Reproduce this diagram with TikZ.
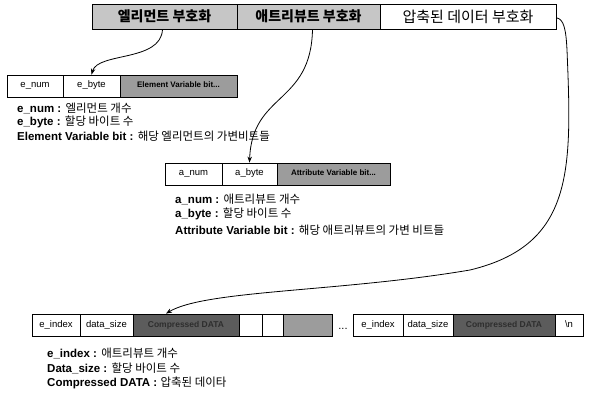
\documentclass[tikz,border=0pt]{standalone}
\usepackage{fontspec}
\setmainfont{Liberation Sans}
\newfontfamily\kr{Noto Sans CJK KR}
\usetikzlibrary{arrows.meta,calc}
\definecolor{lightcell}{HTML}{C6C6C6}
\definecolor{varcell}{HTML}{9C9C9C}
\definecolor{darkcell}{HTML}{5C5C5C}
\definecolor{darktext}{HTML}{2E2E2E}
\begin{document}
\begin{tikzpicture}[x=1pt,y=-1pt,
  cell/.style={draw=black, line width=0.8pt, minimum height=22pt, inner sep=0pt,
    text height=5.5pt, text depth=1.5pt,
    font=\fontsize{9.5}{11}\selectfont, anchor=center},
  topcell/.style={draw=black, line width=0.8pt, minimum height=25pt, inner sep=0pt,
    font=\kr\fontsize{14}{16}\selectfont, anchor=center},
  varbox/.style={cell, fill=varcell, font=\bfseries\fontsize{8}{9}\selectfont},
  databox/.style={cell, fill=darkcell, text=darktext, font=\bfseries\fontsize{8.5}{9}\selectfont},
  lbl/.style={anchor=west, inner sep=0pt, font=\fontsize{11.5}{13}\selectfont},
  conn/.style={-{Stealth[length=6pt,width=4.5pt]}, line width=0.8pt}]
\useasboundingbox (0,0) rectangle (589,395);

% top bar
\node[topcell, fill=lightcell, minimum width=145pt] (t1) at (164.5,16.5) {\bfseries 엘리먼트 부호화};
\node[topcell, fill=lightcell, minimum width=143pt] (t2) at (308.5,16.5) {\bfseries 애트리뷰트 부호화};
\node[topcell, fill=white, minimum width=176pt, font=\kr\fontsize{15}{17}\selectfont] (t3) at (468,16.5) {압축된 데이터 부호화};

% element row
\node[cell, minimum width=56pt] (en) at (35,86) {e\_num};
\node[cell, minimum width=57pt] (eb) at (91.5,86) {e\_byte};
\node[varbox, minimum width=117pt] (ev) at (178.5,86) {Element Variable bit...};

\node[lbl] (l1) at (17,108) {\textbf{e\_num :} {\kr 엘리먼트 개수}};
\node[lbl] (l2) at (17,122) {\textbf{e\_byte :} {\kr 할당 바이트 수}};
\node[lbl] (l3) at (17,136) {\textbf{Element Variable bit :} {\kr 해당 엘리먼트의 가변비트들}};

% attribute row
\node[cell, minimum width=57pt] (an) at (193.5,174) {a\_num};
\node[cell, minimum width=55pt] (ab) at (249.5,174) {a\_byte};
\node[varbox, minimum width=113pt] (av) at (333.5,174) {Attribute Variable bit...};

\node[lbl] (l4) at (175,199) {\textbf{a\_num :} {\kr 애트리뷰트 개수}};
\node[lbl] (l5) at (175,214) {\textbf{a\_byte :} {\kr 할당 바이트 수}};
\node[lbl] (l6) at (175,230) {\textbf{Attribute Variable bit :} {\kr 해당 애트리뷰트의 가변 비트들}};

% data row
\node[cell, minimum width=48pt] (ei1) at (56,325) {e\_index};
\node[cell, minimum width=53pt] (ds1) at (106.5,325) {data\_size};
\node[databox, minimum width=106pt] (cd1) at (186,325) {Compressed DATA};
\node[cell, minimum width=23pt] (w1) at (250.5,325) {};
\node[cell, minimum width=21pt] (w2) at (272.5,325) {};
\node[cell, fill=varcell, minimum width=49pt] (g1) at (307.5,325) {};
\node[inner sep=0pt, font=\fontsize{11}{12}\selectfont] (dots) at (343,329) {...};
\node[cell, minimum width=50pt] (ei2) at (378,325) {e\_index};
\node[cell, minimum width=50pt] (ds2) at (428,325) {data\_size};
\node[databox, minimum width=102pt] (cd2) at (504,325) {Compressed DATA};
\node[cell, minimum width=28pt] (nl) at (569,325) {\textbackslash n};

\node[lbl] (l7) at (47,353) {\textbf{e\_index :} {\kr 애트리뷰트 개수}};
\node[lbl] (l8) at (47,368) {\textbf{Data\_size :} {\kr 할당 바이트 수}};
\node[lbl] (l9) at (47,383) {\textbf{Compressed DATA :} {\kr 압축된 데이타}};

% connectors
\coordinate (s1) at ($(t1.south)+(-2,0)$);
\coordinate (s2) at ($(t2.south)+(4,0)$);
\coordinate (s3) at ($(t3.north east)!0.55!(t3.south east)$);
\coordinate (e3) at ($(cd1.north)+(-20,0)$);

\draw[conn] (s1) .. controls (161,62) and (98,52) .. (eb.north);
\draw[conn] (s2) .. controls (311,105) and (252,92) .. (ab.north);
\draw[conn] (s3) .. controls (564,19) and (566,30) .. (567,50)
  .. controls (572,170) and (574,245) .. (470,270)
  .. controls (340,292) and (205,290) .. (e3);
\end{tikzpicture}
\end{document}
